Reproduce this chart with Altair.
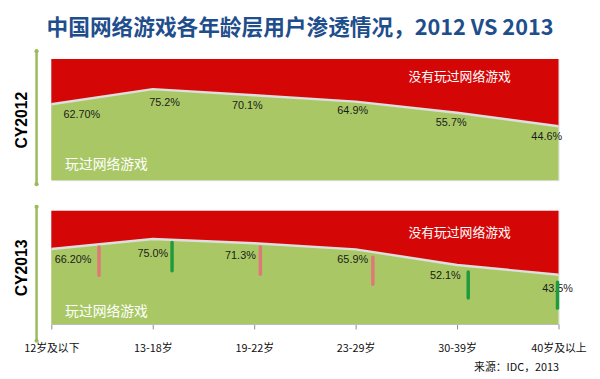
import altair as alt
import pandas as pd

categories = ["12岁及以下", "13-18岁", "19-22岁", "23-29岁", "30-39岁", "40岁及以上"]
values_2012 = [62.7, 75.2, 70.1, 64.9, 55.7, 44.6]
labels_2012 = ["62.70%", "75.2%", "70.1%", "64.9%", "55.7%", "44.6%"]
values_2013 = [66.2, 75.0, 71.3, 65.9, 52.1, 43.5]
labels_2013 = ["66.20%", "75.0%", "71.3%", "65.9%", "52.1%", "43.5%"]
# change arrows in 2013 panel (up = red, down = green)
arrow_dir = ["up", "down", "up", "up", "down", "down"]

# label offsets (pixels) — styling only
dx_2012 = [31, 12, -7, -3, -6, -12]
dy_2012 = [11, 14, 11, 10, 10, 11]
dx_2013 = [22, 0, -14, -3, -12, -1]
dy_2013 = [11, 15, 13, 11, 11, 15]
arrow_pos = [0.47, 1.19, 2.06, 3.17, 4.11, 4.99]
arrow_top = [68, 72, 68, 59, 46, 37]
arrow_bot = [43, 47, 44, 35, 23, 14]

W = 515
FONT = "Liberation Sans"
CJK = "Noto Sans CJK SC"
RED = "#d50606"
GREEN = "#a9c865"
AXGREEN = "#9bbb59"
label_expr = "[" + ",".join("'" + c + "'" for c in categories) + "][datum.value]"


def panel(values, labels, dxs, dys, year, height, bottom):
    df = pd.DataFrame({
        "i": list(range(len(categories))),
        "cat": categories,
        "v": values,
        "lab": labels,
        "top": [100] * len(values),
    })
    base = alt.Chart(df)
    if bottom:
        xaxis = alt.Axis(values=list(range(6)), labelExpr=label_expr, grid=False,
                         domainColor="#bdbdbd", tickColor="#8c8c8c", tickSize=5,
                         labelFont=CJK, labelFontSize=11, labelColor="#111",
                         labelFlush=False, labelOverlap=False,
                         labelPadding=14, title="来源：IDC，2013", titleFont=CJK,
                         titleFontSize=11, titleFontWeight="normal", titleColor="#111",
                         titleAnchor="end", titleAlign="right", titlePadding=8)
    else:
        xaxis = None
    x = alt.X("i:Q", scale=alt.Scale(domain=[0, 5], nice=False, zero=False), axis=xaxis)
    yscale = alt.Scale(domain=[0, 100], nice=False)
    yaxis = alt.Axis(title=year, grid=False, ticks=False, labels=False, domainOpacity=0,
                     domainWidth=2.5, offset=14, titleFont=FONT, titleFontSize=16,
                     titleFontWeight="bold", titleColor="#000", titlePadding=8)
    red = base.mark_area(color=RED, opacity=1).encode(
        x=x, y=alt.Y("v:Q", scale=yscale, axis=yaxis), y2="top:Q")
    green = base.mark_area(color=GREEN, opacity=1).encode(
        x="i:Q", y=alt.Y("v:Q"), y2=alt.datum(0))
    line = base.mark_line(color="#dedede", strokeWidth=2.5).encode(x="i:Q", y="v:Q")
    texts = []
    for k in range(len(values)):
        texts.append(alt.Chart(df.iloc[[k]]).mark_text(
            font=FONT, fontSize=11, color="#1a1a1a", dx=dxs[k], dy=dys[k], baseline="middle"
        ).encode(x="i:Q", y="v:Q", text="lab:N"))
    no_play = alt.Chart(df.iloc[[0]]).mark_text(
        font=CJK, fontSize=13, color="#ffffff", align="center", baseline="middle"
    ).encode(x=alt.value(W * 0.805), y=alt.value(height * (0.15 if not bottom else 0.2)),
             text=alt.value("没有玩过网络游戏"))
    play = alt.Chart(df.iloc[[0]]).mark_text(
        font=CJK, fontSize=14, color="#ffffff", align="left", baseline="middle"
    ).encode(x=alt.value(14), y=alt.value(height - (15 if not bottom else 12)),
             text=alt.value("玩过网络游戏"))
    y_top = -8 if not bottom else -4
    y_bot = height + 4 if not bottom else height + 17
    side = alt.Chart(df.iloc[[0]]).mark_rule(color=AXGREEN, strokeWidth=2.5).encode(
        x=alt.value(-15), y=alt.value(y_top), y2=alt.value(y_bot))
    side_ends = alt.Chart(pd.DataFrame({"p": [y_top, y_bot]})).mark_point(
        shape="circle", filled=True, color=AXGREEN, size=18, opacity=1).encode(
        x=alt.value(-15), y=alt.Y("p:Q", scale=None))
    layers = [red, green, line] + texts + [no_play, play, side, side_ends]
    if bottom:
        adf = pd.DataFrame({"ax": arrow_pos, "a1": arrow_top, "a2": arrow_bot, "d": arrow_dir})
        cscale = alt.Scale(domain=["up", "down"], range=["#e07878", "#1f9a3c"])
        arrows = alt.Chart(adf).mark_rule(strokeWidth=3.5, strokeCap="round").encode(
            x="ax:Q", y="a1:Q", y2="a2:Q",
            color=alt.Color("d:N", scale=cscale, legend=None))
        layers.append(arrows)
    return alt.layer(*layers).properties(width=W, height=height)


top = panel(values_2012, labels_2012, dx_2012, dy_2012, "CY2012", 123, False)
bot = panel(values_2013, labels_2013, dx_2013, dy_2013, "CY2013", 115, True)

chart = alt.vconcat(top, bot, spacing=17).properties(
    title=alt.Title("中国网络游戏各年龄层用户渗透情况，2012 VS 2013", font=CJK, fontSize=22,
                    fontWeight="bold", color="#1f4e8c", anchor="middle", offset=9),
    padding={"left": 5, "top": 6, "right": 5, "bottom": 5},
).configure_view(stroke="#c4c4c4").configure(background="white")

chart.save("out.html", embed_options={"renderer": "svg", "actions": False})
